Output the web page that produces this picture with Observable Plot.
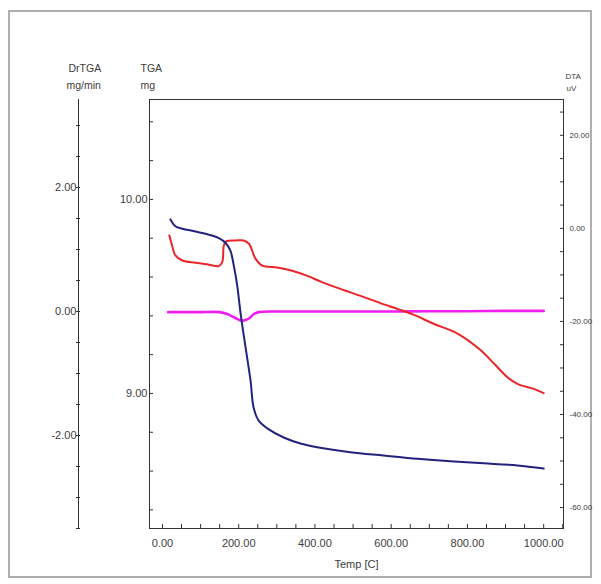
<!DOCTYPE html>
<html><head><meta charset="utf-8">
<script src="https://cdn.jsdelivr.net/npm/d3@7"></script>
<script src="https://cdn.jsdelivr.net/npm/@observablehq/plot@0.6"></script>
<style>
body{margin:0;background:#fff;}
#wrap{position:relative;width:601px;height:584px;overflow:hidden;}
#border{position:absolute;left:8px;top:10px;width:580px;height:564px;border:2px solid #b0b0b0;pointer-events:none;}
#wrap svg{position:absolute;left:0;top:0;}
</style></head><body><div id="wrap"><div id="border"></div></div>
<script>
// TGA (mg) vs temperature (C)
const tgaTemp = [21,34,52,87,122,148,165,178,187,196,205,218,231,239,252,275,318,362,406,493,580,669,756,843,931,1000];
const tgaMass = [9.897,9.862,9.849,9.835,9.818,9.801,9.777,9.737,9.660,9.557,9.412,9.237,9.067,8.928,8.861,8.820,8.773,8.742,8.723,8.697,8.680,8.663,8.650,8.640,8.629,8.613];
// DTA (uV)
const dtaTemp = [18,24,34,52,87,122,148,157,161,167,192,213,227,244,262,301,340,380,420,470,520,570,620,660,711,774,835,869,905,931,974,1000];
const dtaVal = [-1.5,-3.3,-5.8,-6.9,-7.4,-7.8,-8.1,-7.2,-3.7,-2.8,-2.6,-2.6,-3.3,-6.5,-8.0,-8.4,-9.1,-10.2,-11.6,-13.1,-14.5,-16.0,-17.4,-18.6,-20.5,-22.6,-26.2,-29.0,-32.0,-33.4,-34.5,-35.4];
// DrTGA (mg/min)
const drTemp = [15,60,100,150,170,190,208,225,240,252,300,400,500,600,700,800,900,1000];
const drVal = [-0.01,-0.01,-0.01,-0.01,-0.04,-0.10,-0.15,-0.12,-0.04,-0.01,0.0,0.0,0.0,0.0,0.005,0.005,0.01,0.01];

// axis ticks and labels
const xTicks = d3.range(0, 1051, 50);
const xLabels = [0,200,400,600,800,1000];
const tgaTicks = d3.range(84, 105, 2).map(d => d / 10);
const tgaLabels = [9, 10];
const drTicks = d3.range(-7, 7, 1).map(d => d / 2);
const drLabels = [-2, 0, 2];
const dtaTicks = d3.range(-60, 26, 5);
const dtaLabels = [-60, -40, -20, 0, 20];

// axis extents (value at bottom / top of frame)
const xDom = [-34, 1052];
const tgaDom = [8.304, 10.515];
const drDom = [-3.50, 3.42];
const dtaDom = [-64.5, 27.7];

const toTGA = dom => v => tgaDom[0] + (v - dom[0]) / (dom[1] - dom[0]) * (tgaDom[1] - tgaDom[0]);
const fromTGA = dom => v => dom[0] + (v - tgaDom[0]) / (tgaDom[1] - tgaDom[0]) * (dom[1] - dom[0]);
const f2 = v => d3.format(".2f")(v).replace("\u2212", "-");
const inv = dom => v => f2(Math.round(fromTGA(dom)(v) * 2) / 2);

const tgaData = tgaTemp.map((t, i) => ({t, v: tgaMass[i]}));
const dtaData = dtaTemp.map((t, i) => ({t, v: toTGA(dtaDom)(dtaVal[i])}));
const drData = drTemp.map((t, i) => ({t, v: toTGA(drDom)(drVal[i])}));

const ax = {stroke: "#333", label: null};
const chart = Plot.plot({
  width: 601, height: 584,
  marginLeft: 149, marginRight: 38, marginTop: 99, marginBottom: 56,
  x: {domain: xDom},
  y: {domain: tgaDom},
  style: {fontFamily: "Liberation Sans", fontSize: "11px", color: "#3c3c3c", background: "transparent"},
  marks: [
    Plot.line(drData, {x: "t", y: "v", stroke: "#f01ef0", strokeWidth: 2.6, curve: "catmull-rom"}),
    Plot.line(dtaData, {x: "t", y: "v", stroke: "#e8262a", strokeWidth: 2, curve: "catmull-rom"}),
    Plot.line(tgaData, {x: "t", y: "v", stroke: "#23237e", strokeWidth: 2, curve: "catmull-rom"}),
    Plot.frame({stroke: "#333"}),
    // bottom axis: inward ticks, then labels
    Plot.axisX(xTicks, {...ax, anchor: "bottom", tickSize: 4, dy: -4, tickFormat: () => ""}),
    Plot.axisX(xLabels, {...ax, anchor: "bottom", tickSize: 0, tickPadding: 11, tickFormat: f2}),
    // TGA axis (left frame)
    Plot.axisY(tgaTicks, {...ax, anchor: "left", tickSize: 4, dx: 4, tickFormat: () => ""}),
    Plot.axisY(tgaLabels, {...ax, anchor: "left", tickSize: 0, tickPadding: 2, tickFormat: f2}),
    // DrTGA axis (offset left)
    Plot.ruleX([xDom[0]], {dx: -71, stroke: "#333"}),
    Plot.axisY(drTicks.map(toTGA(drDom)), {...ax, anchor: "left", dx: -69, tickSize: 4, tickFormat: () => ""}),
    Plot.axisY(drLabels.map(toTGA(drDom)), {...ax, anchor: "left", dx: -71, tickSize: 0, tickPadding: 2, tickFormat: inv(drDom)}),
    // DTA axis (right frame)
    Plot.axisY(dtaTicks.map(toTGA(dtaDom)), {...ax, anchor: "right", tickSize: 4, dx: -4, tickFormat: () => ""}),
    Plot.axisY(dtaLabels.map(toTGA(dtaDom)), {...ax, anchor: "right", tickSize: 0, tickPadding: 6, fontSize: 8,
      tickFormat: v => f2(Math.round(fromTGA(dtaDom)(v)))}),
    // axis titles
    Plot.text(["TGA"], {frameAnchor: "top-left", dx: -9, dy: -35, fontSize: 10.5}),
    Plot.text(["mg"], {frameAnchor: "top-left", dx: -9, dy: -18, fontSize: 10.5}),
    Plot.text(["DrTGA"], {frameAnchor: "top-left", dx: -81, dy: -35, fontSize: 10.5}),
    Plot.text(["mg/min"], {frameAnchor: "top-left", dx: -83, dy: -18, fontSize: 10.5}),
    Plot.text(["DTA"], {frameAnchor: "top-right", dx: 2, dy: -26, fontSize: 8, textAnchor: "start"}),
    Plot.text(["uV"], {frameAnchor: "top-right", dx: 3, dy: -14, fontSize: 8, textAnchor: "start"}),
    Plot.text(["Temp [C]"], {frameAnchor: "bottom", dy: 39, fontSize: 11})
  ]
});
document.getElementById("wrap").appendChild(chart);
</script>
</body></html>
